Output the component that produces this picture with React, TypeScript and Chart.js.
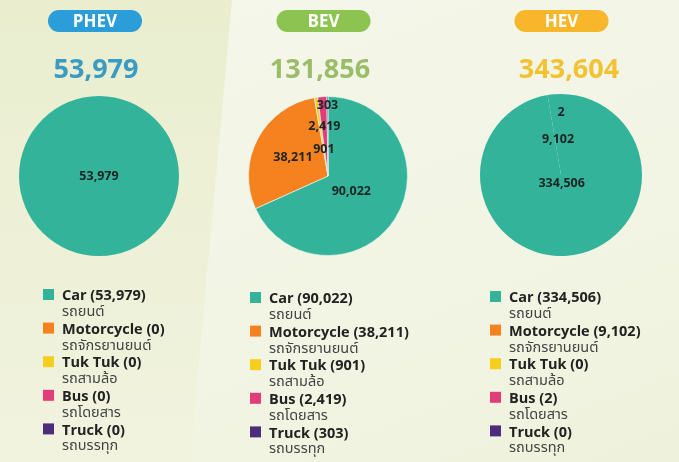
import React, { useEffect, useRef } from "react";
import { Chart, registerables } from "chart.js";

Chart.register(...registerables);

// ---- data ----
const categories = ["Car", "Motorcycle", "Tuk Tuk", "Bus", "Truck"];
const categoriesThai = ["รถยนต์", "รถจักรยานยนต์", "รถสามล้อ", "รถโดยสาร", "รถบรรทุก"];
const groups = ["PHEV", "BEV", "HEV"];
const groupTotals = ["53,979", "131,856", "343,604"];
const phevValues = [53979, 0, 0, 0, 0];
const bevValues = [90022, 38211, 901, 2419, 303];
const hevValues = [334506, 9102, 0, 2, 0];

// ---- styles ----
const legendColors = ["#33b399", "#f5821f", "#f6cf1c", "#e23c7b", "#4c2d7c"];
const W = 679;
const H = 462;

type ColCfg = {
  x0: number;
  w: number;
  values: number[];
  title: string;
  total: string;
  pillColor: string;
  totalColor: string;
  pillX: number;
  totalX: number;
  cx: number;
  cy: number;
  r: number;
  legendX: number;
  legendY: number;
  labelRadius: number[];
  sliceColors: string[];
  borderColor: string;
  borderWidth: number;
};

const cols: ColCfg[] = [
  {
    x0: 0, w: 226, values: phevValues, title: groups[0], total: groupTotals[0],
    pillColor: "#2b9ed9", totalColor: "#3a9bc4", pillX: 95, totalX: 96,
    cx: 99, cy: 176, r: 80, legendX: 43, legendY: 296,
    labelRadius: [0, 0.5, 0.5, 0.5, 0.5], sliceColors: legendColors,
    borderColor: "rgba(225,245,236,0.7)", borderWidth: 0,
  },
  {
    x0: 226, w: 227, values: bevValues, title: groups[1], total: groupTotals[1],
    pillColor: "#8dc351", totalColor: "#9bbd6a", pillX: 97.5, totalX: 94,
    cx: 328, cy: 176, r: 80, legendX: 24, legendY: 299,
    labelRadius: [0.35, 0.5, 0.34, 0.63, 0.89], sliceColors: legendColors,
    borderColor: "rgba(225,245,236,0.7)", borderWidth: 1,
  },
  {
    x0: 453, w: 226, values: hevValues, title: groups[2], total: groupTotals[2],
    pillColor: "#f8b62a", totalColor: "#f2c232", pillX: 108.5, totalX: 116,
    cx: 561, cy: 175, r: 81, legendX: 37, legendY: 298,
    labelRadius: [0.1, 0.44, 0.5, 0.77, 0.5],
    // the reference renders every HEV slice in the car teal
    sliceColors: ["#33b399", "#33b399", "#33b399", "#33b399", "#33b399"],
    borderColor: "rgba(80,200,175,0.5)", borderWidth: 0,
  },
];

const infographicPlugin = {
  id: "infographic",
  afterDatasetsDraw(chart: any, _args: any, opts: any) {
    const ctx = chart.ctx;
    const meta = chart.getDatasetMeta(0);
    const data = chart.data.datasets[0].data as number[];
    ctx.save();
    ctx.font = "bold 12.5px 'Open Sans', sans-serif";
    ctx.fillStyle = "#1e2424";
    ctx.textAlign = "center";
    ctx.textBaseline = "middle";
    meta.data.forEach((arc: any, i: number) => {
      const v = data[i];
      if (!v) return;
      const p = arc.getProps(["x", "y", "startAngle", "endAngle", "outerRadius"], true);
      const span = p.endAngle - p.startAngle;
      let lx = p.x;
      let ly = p.y;
      if (span < Math.PI * 2 - 1e-6) {
        const mid = (p.startAngle + p.endAngle) / 2;
        const f = opts.labelRadius[i];
        lx = p.x + Math.cos(mid) * p.outerRadius * f;
        ly = p.y + Math.sin(mid) * p.outerRadius * f;
      }
      ctx.fillText(v.toLocaleString("en-US"), lx, ly);
    });
    ctx.restore();
  },
  afterDraw(chart: any, _args: any, opts: any) {
    const ctx = chart.ctx;
    ctx.save();
    // pill header
    const pw = 94, ph = 22, py = 10;
    const px = opts.pillX - pw / 2;
    ctx.fillStyle = opts.pillColor;
    ctx.beginPath();
    ctx.roundRect(px, py, pw, ph, ph / 2);
    ctx.fill();
    ctx.fillStyle = "#ffffff";
    ctx.font = "bold 17px 'Open Sans', sans-serif";
    ctx.textAlign = "center";
    ctx.textBaseline = "middle";
    ctx.fillText(opts.title, opts.pillX, py + ph / 2 + 1);
    // big total
    ctx.fillStyle = opts.totalColor;
    ctx.font = "bold 27px 'Open Sans', sans-serif";
    ctx.fillText(opts.total, opts.totalX, 70);
    // legend
    const step = 33.6;
    categories.forEach((c, i) => {
      const y = opts.legendY + i * step;
      ctx.fillStyle = legendColors[i];
      ctx.fillRect(opts.legendX, y - 7, 11, 11);
      ctx.textAlign = "left";
      ctx.fillStyle = "#222222";
      ctx.font = "bold 14.5px 'Open Sans', sans-serif";
      ctx.fillText(`${c} (${(opts.values[i] as number).toLocaleString("en-US")})`, opts.legendX + 19, y);
      ctx.fillStyle = "#444444";
      ctx.font = "14.5px 'Noto Sans Thai', 'Noto Sans', sans-serif";
      ctx.fillText(categoriesThai[i], opts.legendX + 19, y + 17);
    });
    ctx.restore();
  },
};

function PieColumn({ cfg }: { cfg: ColCfg }) {
  const ref = useRef<HTMLCanvasElement | null>(null);
  useEffect(() => {
    if (!ref.current) return;
    const left = cfg.cx - cfg.r - cfg.x0;
    const right = cfg.w - (cfg.cx + cfg.r - cfg.x0);
    const top = cfg.cy - cfg.r;
    const bottom = H - (cfg.cy + cfg.r);
    const chart = new Chart(ref.current, {
      type: "pie",
      data: {
        labels: categories,
        datasets: [
          {
            data: cfg.values,
            backgroundColor: cfg.sliceColors,
            borderColor: cfg.borderColor,
            borderWidth: cfg.values.map((v) => (v ? cfg.borderWidth : 0)),
          },
        ],
      },
      options: {
        responsive: false,
        animation: false,
        layout: { padding: { left, right, top, bottom } },
        plugins: {
          legend: { display: false },
          tooltip: { enabled: false },
          infographic: {
            title: cfg.title,
            total: cfg.total,
            pillColor: cfg.pillColor,
            totalColor: cfg.totalColor,
            pillX: cfg.pillX,
            totalX: cfg.totalX,
            legendX: cfg.legendX,
            legendY: cfg.legendY,
            labelRadius: cfg.labelRadius,
            values: cfg.values,
          },
        } as any,
      },
      plugins: [infographicPlugin],
    });
    return () => chart.destroy();
  }, [cfg]);
  return (
    <canvas
      ref={ref}
      width={cfg.w}
      height={H}
      style={{ position: "absolute", left: cfg.x0, top: 0, width: cfg.w, height: H }}
    />
  );
}

export default function App() {
  return (
    <div
      style={{
        position: "fixed",
        left: 0,
        top: 0,
        width: W,
        height: H,
        overflow: "hidden",
        background: "linear-gradient(160deg, #f4f7ea 0%, #f2f5e4 60%, #eef2dc 100%)",
      }}
    >
      <div
        style={{
          position: "absolute",
          inset: 0,
          background: "linear-gradient(180deg, #eaeecf 0%, #eef1d8 60%, #f1f3df 100%)",
          clipPath: "polygon(0 0, 232px 0, 190px 462px, 0 462px)",
        }}
      />
      {cols.map((c) => (
        <PieColumn key={c.title} cfg={c} />
      ))}
    </div>
  );
}
